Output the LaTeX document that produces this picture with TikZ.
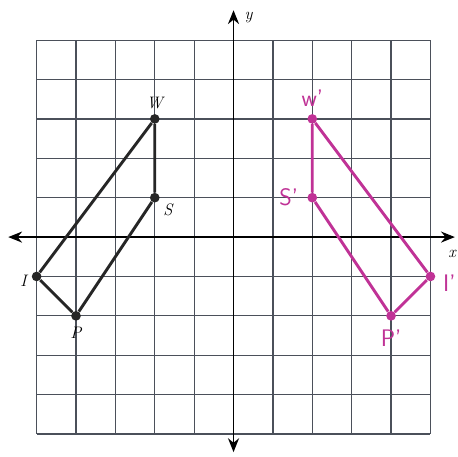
\documentclass[tikz,border=0pt]{standalone}
\usepackage{xcolor}
\usepackage{tikz}
\usetikzlibrary{arrows.meta,positioning}
\definecolor{penpink}{RGB}{192,50,150}
\definecolor{gridgray}{RGB}{75,80,90}

\begin{document}
\begin{tikzpicture}[font=\large, dot/.style={circle, fill=#1, inner sep=0pt, minimum size=7pt}, fig/.style={line width=2.1pt, line join=round}, hand/.style={text=penpink, font=\LARGE\sffamily}, lab/.style={font=\large\itshape}]
\useasboundingbox (-5.93,-5.58) rectangle (5.70,6.02);
\fill[white] (-5.93,-5.58) rectangle (5.70,6.02);
\draw[gridgray, line width=0.9pt] (-5,-5) grid (5,5);
\draw[line width=1.2pt, {Stealth[length=10pt,width=8pt]}-{Stealth[length=10pt,width=8pt]}] (-5.72,0) -- (5.62,0);
\draw[line width=1.2pt, {Stealth[length=10pt,width=8pt]}-{Stealth[length=10pt,width=8pt]}] (0,-5.46) -- (0,5.76);
\node[lab] (ylab) at (0.38,5.58) {y};
\node[lab] (xlab) at (5.55,-0.42) {x};
% original figure
\node[dot=black!85] (w) at (-2,3) {};
\node[dot=black!85] (s) at (-2,1) {};
\node[dot=black!85] (p) at (-4,-2) {};
\node[dot=black!85] (i) at (-5,-1) {};
\draw[fig, black!85] (w) -- (s) -- (p) -- (i) -- (w);
\node[lab, above=0pt of w] {W};
\node[lab, below right=-2pt and 0pt of s] {S};
\node[lab, left=0pt of i, yshift=-3pt] {I};
\node[lab, below=1pt of p] {P};
% reflected figure
\node[dot=penpink] (w2) at (2,3) {};
\node[dot=penpink] (s2) at (2,1) {};
\node[dot=penpink] (p2) at (4,-2) {};
\node[dot=penpink] (i2) at (5,-1) {};
\draw[fig, penpink] (w2) -- (s2) -- (p2) -- (i2) -- (w2);
\node[hand, above=2pt of w2] {w'};
\node[hand, left=3pt of s2] {S'};
\node[hand, below=3pt of p2] {P'};
\node[hand, right=2pt of i2, yshift=-5pt] {I'};
\end{tikzpicture}
\end{document}
